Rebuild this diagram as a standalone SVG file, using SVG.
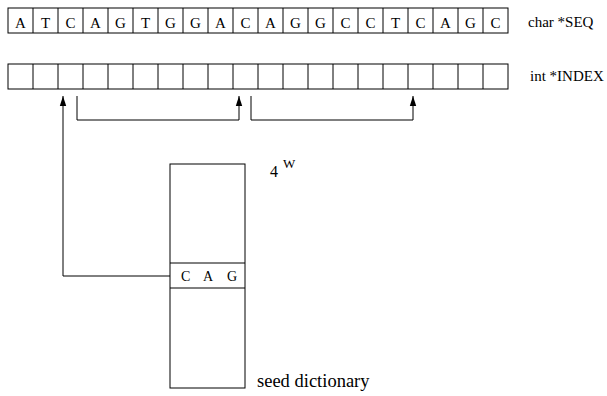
<svg xmlns="http://www.w3.org/2000/svg" width="607" height="396" viewBox="0 0 607 396">
<style>
.cell{fill:#fff;stroke:#000;stroke-width:1}
.t{font-family:"Liberation Serif","Times New Roman",serif;fill:#000}
.c{text-anchor:middle;font-size:15px}
.lbl{font-size:15px}
.ln{fill:none;stroke:#000;stroke-width:1}
</style>
<defs>
<marker id="ah" viewBox="0 0 10 10" refX="10" refY="5" markerWidth="10" markerHeight="10" markerUnits="userSpaceOnUse" orient="auto">
<path d="M0,1.8 L10,5 L0,8.2 Z" fill="#000"/>
</marker>
</defs>
<rect width="607" height="396" fill="#fff"/>
<g id="seq">
<rect class="cell" x="8" y="8" width="500" height="25"/>
<path class="ln" d="M33,8V33M58,8V33M83,8V33M108,8V33M133,8V33M158,8V33M183,8V33M208,8V33M233,8V33M258,8V33M283,8V33M308,8V33M333,8V33M358,8V33M383,8V33M408,8V33M433,8V33M458,8V33M483,8V33"/>
<g class="t c">
<text x="20.5" y="27.5">A</text><text x="45.5" y="27.5">T</text><text x="70.5" y="27.5">C</text><text x="95.5" y="27.5">A</text><text x="120.5" y="27.5">G</text><text x="145.5" y="27.5">T</text><text x="170.5" y="27.5">G</text><text x="195.5" y="27.5">G</text><text x="220.5" y="27.5">A</text><text x="245.5" y="27.5">C</text><text x="270.5" y="27.5">A</text><text x="295.5" y="27.5">G</text><text x="320.5" y="27.5">G</text><text x="345.5" y="27.5">C</text><text x="370.5" y="27.5">C</text><text x="395.5" y="27.5">T</text><text x="420.5" y="27.5">C</text><text x="445.5" y="27.5">A</text><text x="470.5" y="27.5">G</text><text x="495.5" y="27.5">C</text>
</g>
<text class="t lbl" x="528" y="27">char *SEQ</text>
</g>
<g id="index">
<rect class="cell" x="8" y="64" width="500" height="25"/>
<path class="ln" d="M33,64V89M58,64V89M83,64V89M108,64V89M133,64V89M158,64V89M183,64V89M208,64V89M233,64V89M258,64V89M283,64V89M308,64V89M333,64V89M358,64V89M383,64V89M408,64V89M433,64V89M458,64V89M483,64V89"/>
<text class="t lbl" x="530" y="81">int *INDEX</text>
</g>
<g id="dictionary">
<rect class="cell" x="170" y="164" width="75" height="224"/>
<path class="ln" d="M170,263H245M170,288H245"/>
<text class="t" x="181" y="281" style="font-size:14px">C</text>
<text class="t" x="203" y="281" style="font-size:14px">A</text>
<text class="t" x="227" y="281" style="font-size:14px">G</text>
<text class="t" x="270" y="177" style="font-size:16px">4</text>
<text class="t" x="283" y="168" style="font-size:13px">W</text>
<text class="t" x="257" y="387" style="font-size:18.5px">seed dictionary</text>
</g>
<g id="connectors">
<path class="ln" d="M170,276H63V96" marker-end="url(#ah)"/>
<path class="ln" d="M77,96V120H239V96" marker-end="url(#ah)"/>
<path class="ln" d="M251,96V120H413V96" marker-end="url(#ah)"/>
</g>
</svg>
